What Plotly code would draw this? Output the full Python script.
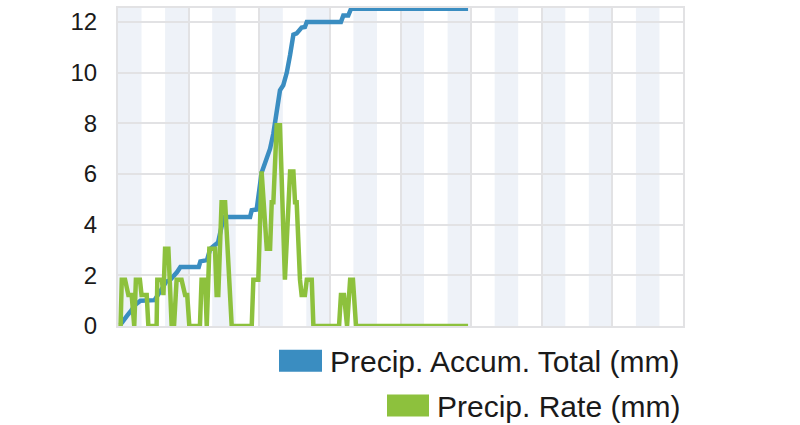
import plotly.graph_objects as go

# hours since start of day
accum_hours = [0.10, 0.24, 0.38, 0.55, 0.75, 0.95, 1.55, 1.75, 2.05, 2.20, 2.37, 2.51, 2.65,
               3.43, 3.50, 3.78, 3.92, 4.08, 4.25, 4.49, 5.61, 5.68, 5.89, 6.10, 6.32, 6.46,
               6.60, 6.74, 6.88, 7.02, 7.17, 7.31, 7.45, 7.59, 7.73, 7.80, 7.94, 8.02, 9.47,
               9.57, 9.78, 9.90, 14.87]
accum_mm = [0.05, 0.25, 0.40, 0.60, 0.85, 1.00, 1.02, 1.30, 1.75, 1.80, 1.96, 2.13, 2.33,
            2.33, 2.55, 2.60, 3.05, 3.18, 3.30, 4.30, 4.30, 4.57, 4.60, 6.05, 6.60, 7.00,
            7.60, 8.60, 9.30, 9.50, 10.00, 10.70, 11.50, 11.55, 11.70, 11.78, 11.80, 12.00, 12.00,
            12.25, 12.25, 12.52, 12.52]

rate_hours = [0.11, 0.16, 0.30, 0.44, 0.58, 0.69, 0.76, 0.93, 1.00, 1.22, 1.29, 1.64, 1.67,
              1.86, 1.93, 2.00, 2.14, 2.28, 2.38, 2.49, 2.70, 2.85, 2.94, 3.03, 3.48, 3.55,
              3.70, 3.77, 3.88, 4.12, 4.19, 4.26, 4.40, 4.55, 4.83, 5.68, 5.75, 5.96, 6.10,
              6.32, 6.46, 6.53, 6.60, 6.74, 6.88, 7.09, 7.31, 7.45, 7.52, 7.59, 7.73, 7.80,
              7.94, 8.02, 8.23, 8.30, 9.39, 9.47, 9.60, 9.73, 9.86, 9.98, 10.11, 14.87]
rate_mm = [0, 1.83, 1.83, 1.22, 1.22, 0, 1.83, 1.83, 1.22, 1.22, 0, 0, 1.83,
           1.83, 1.22, 3.05, 3.05, 0, 0, 1.83, 1.83, 1.22, 1.22, 0, 0, 1.83,
           1.83, 0, 3.05, 3.05, 1.22, 1.22, 4.88, 4.88, 0, 0, 1.83, 1.83, 6.10,
           3.05, 3.05, 4.88, 4.88, 7.92, 7.92, 1.83, 6.10, 6.10, 4.88, 4.88, 1.83, 1.22,
           1.22, 1.83, 1.83, 0, 0, 1.22, 1.22, 0, 1.83, 1.83, 0, 0]

y_ticks = [0, 2, 4, 6, 8, 10, 12]

blue = '#3a8dc1'
green = '#8dc13d'
grid = '#e2e2e4'
band = '#eef2f8'
txt = '#1a1a1a'

W, H = 800, 425
L, R, T, B = 118, 117, 6, 99


def px(x):  # pixel -> paper x
    return (x - L) / (W - L - R)


def py(y):  # pixel -> paper y
    return (H - B - y) / (H - T - B)


fig = go.Figure()
fig.add_trace(go.Scatter(x=accum_hours, y=accum_mm, mode='lines', name='Precip. Accum. Total (mm)',
                         line=dict(color=blue, width=4.5)))
fig.add_trace(go.Scatter(x=rate_hours, y=rate_mm, mode='lines', name='Precip. Rate (mm)',
                         line=dict(color=green, width=4.5)))

# alternating hour bands
shapes = []
for h in range(0, 24, 2):
    shapes.append(dict(type='rect', xref='x', yref='paper', x0=h, x1=h + 1, y0=0, y1=1,
                       fillcolor=band, line_width=0, layer='below'))

# hand-drawn legend below the plot
legend_items = [('Precip. Accum. Total (mm)', blue, 279, 322, 350, 372, 362),
                ('Precip. Rate (mm)', green, 387, 429, 395, 417, 407)]
annotations = []
for label, col, x0, x1, y0, y1, yc in legend_items:
    shapes.append(dict(type='rect', xref='paper', yref='paper', x0=px(x0), x1=px(x1),
                       y0=py(y1), y1=py(y0), fillcolor=col, line_width=0))
    annotations.append(dict(text=label, xref='paper', yref='paper', x=px(682), y=py(yc),
                            xanchor='right', yanchor='middle', showarrow=False,
                            font=dict(size=30, color=txt)))

fig.update_layout(
    width=W, height=H,
    margin=dict(l=L, r=R, t=T, b=B),
    paper_bgcolor='white', plot_bgcolor='white',
    font=dict(family='Liberation Sans, Arial, sans-serif', color=txt),
    showlegend=False,
    shapes=shapes,
    annotations=annotations,
)
fig.update_xaxes(range=[0, 24], dtick=3, showticklabels=False, showgrid=True, gridcolor=grid,
                 gridwidth=2, zeroline=False, showline=True, linecolor=grid, linewidth=2, mirror=True)
fig.update_yaxes(range=[0, 12.55], tickvals=y_ticks, showgrid=True, gridcolor=grid, gridwidth=2,
                 zeroline=False, showline=True, linecolor=grid, linewidth=2, mirror=True,
                 tickfont=dict(size=24, color=txt), ticks='', ticklabelstandoff=14)

fig.write_html("out.html", config={'displayModeBar': False},
               post_script="document.body.style.margin='0';")
